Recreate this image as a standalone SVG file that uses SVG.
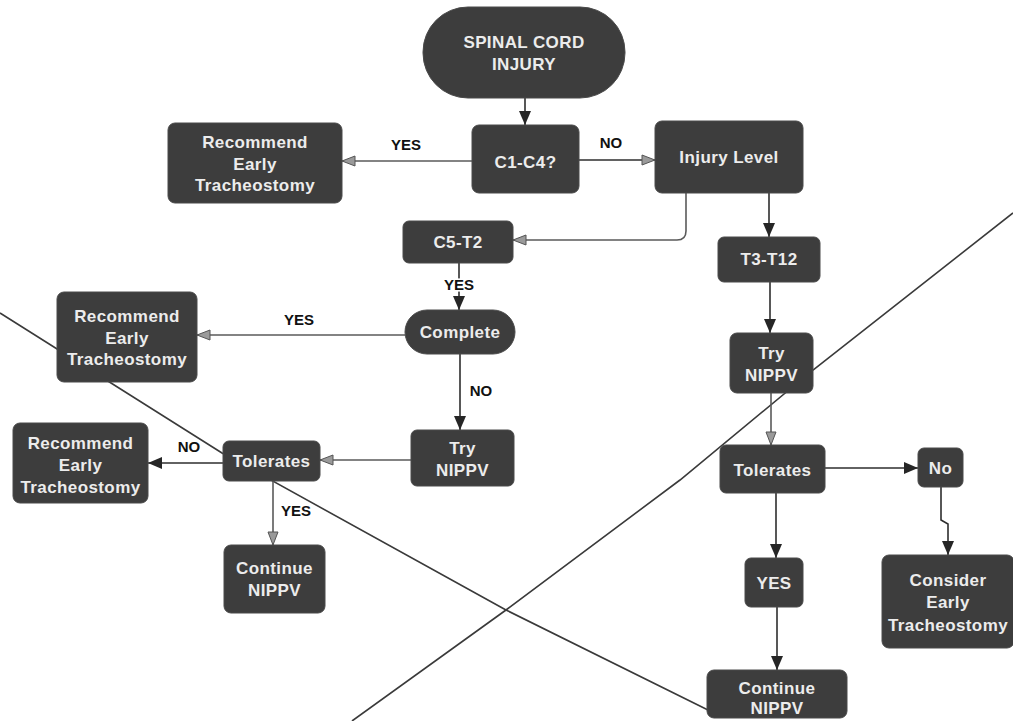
<svg xmlns="http://www.w3.org/2000/svg" width="1013" height="721" viewBox="0 0 1013 721">
  <style>
    .node rect { fill: #3d3d3d; stroke: #4a4a4a; stroke-width: 1; }
    .node text { font-family: "Liberation Sans", Arial, sans-serif; font-size: 17px; font-weight: bold; fill: #ececec; text-anchor: middle; letter-spacing: 0.4px; }
    .edge { fill: none; stroke: #2e2e2e; stroke-width: 1.6; }
    .edge.soft { stroke: #5a5a5a; }
    .lbl { font-family: "Liberation Sans", Arial, sans-serif; font-size: 15px; font-weight: bold; fill: #111; text-anchor: middle; stroke: #fff; stroke-width: 3px; paint-order: stroke; }
    .cross { fill: none; stroke: #3a3a3a; stroke-width: 1.6; }
  </style>
  <defs>
    <marker id="arrDark" markerUnits="userSpaceOnUse" markerWidth="15" markerHeight="12" refX="14" refY="6" orient="auto">
      <path d="M0,0 L14,6 L0,12 z" fill="#262626"/>
    </marker>
    <marker id="arrGray" markerUnits="userSpaceOnUse" markerWidth="15" markerHeight="12" refX="14" refY="6" orient="auto">
      <path d="M1,1 L14,6 L1,11 z" fill="#9a9a9a" stroke="#555" stroke-width="1"/>
    </marker>
  </defs>

  <rect x="0" y="0" width="1013" height="721" fill="#ffffff"/>

  <!-- two crossing strike lines drawn behind the chart -->
  <g id="strike-lines">
    <polyline class="cross" points="0,313 222,453 506,610 708,710"/>
    <polyline class="cross" points="1013,213 813,370 680,480 506,610 352,721"/>
  </g>

  <g id="connectors">
    <path class="edge" d="M525,98 V125" marker-end="url(#arrDark)"/>
    <path class="edge soft" d="M472,161 H342" marker-end="url(#arrGray)"/>
    <path class="edge" d="M579,160 H655" marker-end="url(#arrGray)"/>
    <path class="edge soft" d="M686,193 V231 Q686,240 677,240 H513" marker-end="url(#arrGray)"/>
    <path class="edge" d="M769,193 V237" marker-end="url(#arrDark)"/>
    <path class="edge" d="M459,263 V310" marker-end="url(#arrDark)"/>
    <path class="edge soft" d="M405,335 H197" marker-end="url(#arrGray)"/>
    <path class="edge" d="M460,354 V430" marker-end="url(#arrDark)"/>
    <path class="edge soft" d="M411,460 H320" marker-end="url(#arrGray)"/>
    <path class="edge" d="M223,463 H148" marker-end="url(#arrDark)"/>
    <path class="edge soft" d="M273,481 V545" marker-end="url(#arrGray)"/>
    <path class="edge" d="M770,282 V333" marker-end="url(#arrDark)"/>
    <path class="edge soft" d="M771,393 V445" marker-end="url(#arrGray)"/>
    <path class="edge" d="M825,468 H918" marker-end="url(#arrDark)"/>
    <path class="edge" d="M776,493 V558" marker-end="url(#arrDark)"/>
    <path class="edge" d="M941,487 V520 L948,524 V555" marker-end="url(#arrDark)"/>
    <path class="edge" d="M777,607 V670" marker-end="url(#arrDark)"/>

    <text class="lbl" x="406" y="150">YES</text>
    <text class="lbl" x="611" y="148">NO</text>
    <text class="lbl" x="459" y="290">YES</text>
    <text class="lbl" x="299" y="325">YES</text>
    <text class="lbl" x="481" y="396">NO</text>
    <text class="lbl" x="189" y="452">NO</text>
    <text class="lbl" x="296" y="516">YES</text>
  </g>

  <g id="spinal-cord-injury" class="node">
    <rect x="423" y="7" width="202" height="91" rx="45"/>
    <text x="524" y="48">SPINAL CORD</text>
    <text x="524" y="70">INJURY</text>
  </g>
  <g id="c1-c4" class="node">
    <rect x="472" y="125" width="107" height="68" rx="7"/>
    <text x="525.5" y="168">C1-C4?</text>
  </g>
  <g id="recommend-top" class="node">
    <rect x="168" y="123" width="174" height="80" rx="7"/>
    <text x="255" y="148">Recommend</text>
    <text x="255" y="169.5">Early</text>
    <text x="255" y="191">Tracheostomy</text>
  </g>
  <g id="injury-level" class="node">
    <rect x="655" y="121" width="148" height="72" rx="7"/>
    <text x="729" y="163">Injury Level</text>
  </g>
  <g id="c5-t2" class="node">
    <rect x="403" y="221" width="110" height="42" rx="6"/>
    <text x="458" y="248">C5-T2</text>
  </g>
  <g id="t3-t12" class="node">
    <rect x="718" y="237" width="102" height="45" rx="6"/>
    <text x="769" y="265">T3-T12</text>
  </g>
  <g id="recommend-mid" class="node">
    <rect x="57" y="292" width="140" height="90" rx="7"/>
    <text x="127" y="322">Recommend</text>
    <text x="127" y="343.5">Early</text>
    <text x="127" y="365">Tracheostomy</text>
  </g>
  <g id="complete" class="node">
    <rect x="405" y="310" width="110" height="44" rx="22"/>
    <text x="460" y="338">Complete</text>
  </g>
  <g id="try-nippv-left" class="node">
    <rect x="411" y="430" width="103" height="56" rx="6"/>
    <text x="462.5" y="454">Try</text>
    <text x="462.5" y="476">NIPPV</text>
  </g>
  <g id="tolerates-left" class="node">
    <rect x="223" y="441" width="97" height="40" rx="6"/>
    <text x="271.5" y="467">Tolerates</text>
  </g>
  <g id="recommend-low" class="node">
    <rect x="13" y="423" width="135" height="80" rx="7"/>
    <text x="80.5" y="449">Recommend</text>
    <text x="80.5" y="471">Early</text>
    <text x="80.5" y="493">Tracheostomy</text>
  </g>
  <g id="continue-nippv-left" class="node">
    <rect x="224" y="545" width="101" height="68" rx="7"/>
    <text x="274.5" y="574">Continue</text>
    <text x="274.5" y="596">NIPPV</text>
  </g>
  <g id="try-nippv-right" class="node">
    <rect x="730" y="333" width="83" height="60" rx="7"/>
    <text x="771.5" y="359">Try</text>
    <text x="771.5" y="381">NIPPV</text>
  </g>
  <g id="tolerates-right" class="node">
    <rect x="720" y="445" width="105" height="48" rx="6"/>
    <text x="772.5" y="476">Tolerates</text>
  </g>
  <g id="no" class="node">
    <rect x="918" y="448" width="45" height="39" rx="6"/>
    <text x="940.5" y="474">No</text>
  </g>
  <g id="consider-early-tracheostomy" class="node">
    <rect x="882" y="555" width="132" height="93" rx="7"/>
    <text x="948" y="586">Consider</text>
    <text x="948" y="608">Early</text>
    <text x="948" y="631">Tracheostomy</text>
  </g>
  <g id="yes" class="node">
    <rect x="745" y="558" width="58" height="49" rx="6"/>
    <text x="774" y="589">YES</text>
  </g>
  <g id="continue-nippv-right" class="node">
    <rect x="707" y="670" width="140" height="48" rx="7"/>
    <text x="777" y="694">Continue</text>
    <text x="777" y="714">NIPPV</text>
  </g>
</svg>
